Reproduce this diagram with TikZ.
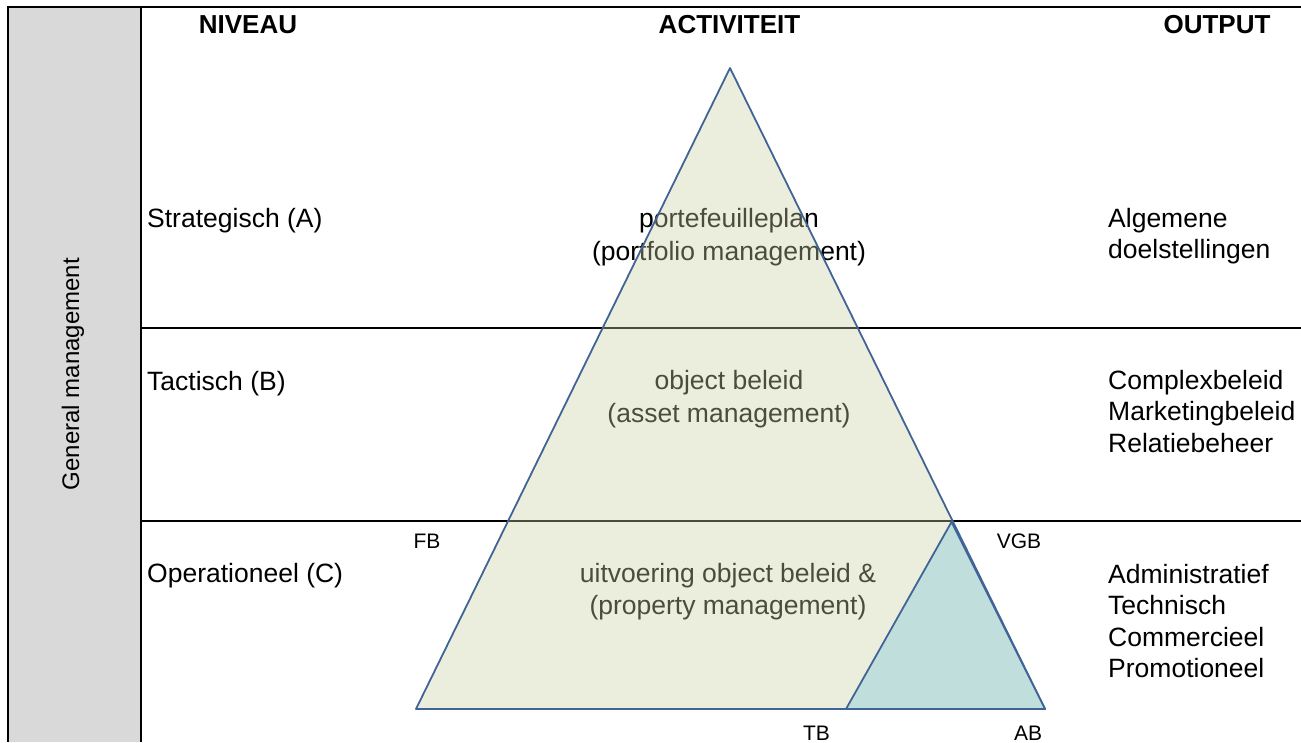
\documentclass[tikz,border=0pt]{standalone}
\usepackage{fontspec}
\setmainfont{Liberation Sans}
\usetikzlibrary{positioning}
\definecolor{panelgray}{RGB}{217,217,217}
\definecolor{trifill}{RGB}{201,209,163}
\definecolor{triedge}{RGB}{65,100,150}
\definecolor{subfill}{RGB}{192,222,220}

\begin{document}
\begin{tikzpicture}[x=1pt, y=-1pt,
    rule/.style={line width=2.8pt},
    head/.style={font=\fontsize{26}{31.5}\selectfont\bfseries, inner sep=0pt},
    levels/.style={font=\fontsize{26.5}{31.5}\selectfont, inner sep=0pt, align=left, anchor=base west},
    mid/.style={font=\fontsize{26.5}{32.5}\selectfont, inner sep=0pt, align=center, anchor=base},
    corner/.style={font=\fontsize{21}{25}\selectfont, inner sep=0pt, anchor=base},
    pyramid/.style={fill=trifill, fill opacity=0.37, draw=triedge, draw opacity=1, line width=1.8pt, line join=round},
    subpyramid/.style={fill=subfill, draw=triedge, line width=1.8pt, line join=round}]
    \useasboundingbox (0,0) rectangle (1301,742);

    % grid
    \fill[panelgray] (8,7) rectangle (141,742);
    \draw[rule] (8,742) -- (8,7) -- (1301,7);
    \draw[rule] (141,7) -- (141,742);
    \draw[rule] (141,328) -- (1301,328);
    \draw[rule] (141,521) -- (1301,521);

    \node (gm) [font=\fontsize{24}{28}\selectfont, inner sep=0pt, rotate=90] at (73,374) {General management};

    \node (niveau) [head] at (248,25) {NIVEAU};
    \node (activiteit) [head] at (729.5,25) {ACTIVITEIT};
    \node (output) [head] at (1217,25) {OUTPUT};

    \node (levA) [levels] at (147,227) {Strategisch (A)};
    \node (levB) [levels] at (147,390) {Tactisch (B)};
    \node (levC) [levels] at (147,582) {Operationeel (C)};

    % multi-line nodes sit on their last line
    \node (outA) [levels] at (1108,258.5) {Algemene\\doelstellingen};
    \node (outB) [levels] at (1108,452) {Complexbeleid\\Marketingbeleid\\Relatiebeheer};
    \node (outC) [levels] at (1108,677.5) {Administratief\\Technisch\\Commercieel\\Promotioneel};

    % activity text, under the pyramid
    \node (actA) [mid] at (729,260) {portefeuilleplan\\(portfolio management)};
    \node (actB) [mid] at (729,422) {object beleid\\(asset management)};
    \node (actC) [mid] at (728,614.5) {uitvoering object beleid \&\\(property management)};

    % pyramid
    \coordinate (apex) at (730,68);
    \coordinate (fbcorner) at (416,709);
    \coordinate (abcorner) at (1045,709);
    \coordinate (vgbcorner) at (951.5,522);
    \coordinate (tbcorner) at (846,709);
    \draw[pyramid] (apex) -- (fbcorner) -- (abcorner) -- cycle;
    \draw[subpyramid] (vgbcorner) -- (tbcorner) -- (abcorner) -- cycle;

    \node (fb) [corner] at (427,548) {FB};
    \node (vgb) [corner] at (1019,548) {VGB};
    \node (tb) [corner] at (816.5,740) {TB};
    \node (ab) [corner] at (1028,740) {AB};
\end{tikzpicture}
\end{document}
